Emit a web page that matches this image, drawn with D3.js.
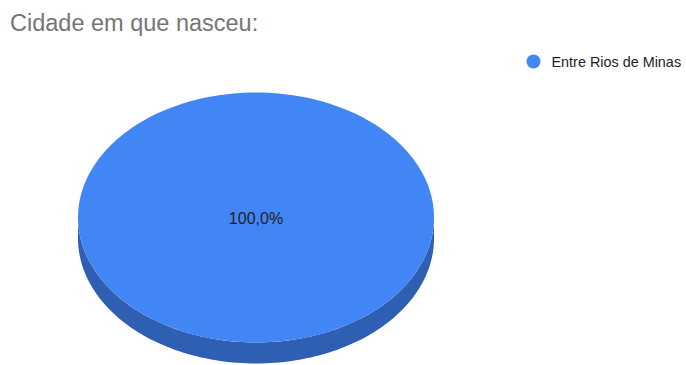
<!DOCTYPE html>
<html>
<head>
<meta charset="utf-8">
<script src="https://cdn.jsdelivr.net/npm/d3@7"></script>
<style>
  html, body { margin: 0; padding: 0; background: #fff; }
  svg { display: block; font-family: Arial, "Liberation Sans", sans-serif; }
</style>
</head>
<body>
<svg id="chart" width="686" height="365"></svg>
<script>
// Chart data
const title = "Cidade em que nasceu:";
const categories = ["Entre Rios de Minas"];
const values = [1];
const colors = ["#4285f4"];
const sideColors = ["#2f5fb2"];

const W = 686, H = 365;
const svg = d3.select("#chart");

// Tilted pie geometry
const cx = 256, cy = 217.5, rx = 178, ry = 125, depth = 21;

const pie = d3.pie().sort(null).value(d => d)(values);
const total = d3.sum(values);
const pct = d3.format(".1f");

// point on the ellipse for a d3 pie angle (0 = 12 o'clock, clockwise)
const pt = (a, dy = 0) => [cx + rx * Math.sin(a), cy - ry * Math.cos(a) + dy];
const isFull = d => d.endAngle - d.startAngle >= 2 * Math.PI - 1e-6;

function topPath(d) {
  const n = 180;
  const p = d3.path();
  if (!isFull(d)) p.moveTo(cx, cy);
  for (let i = 0; i <= n; i++) {
    const [x, y] = pt(d.startAngle + (d.endAngle - d.startAngle) * i / n);
    (i === 0 && isFull(d)) ? p.moveTo(x, y) : p.lineTo(x, y);
  }
  p.closePath();
  return p.toString();
}

function sidePath(d) {
  // outer wall is visible only on the front half (angles between pi/2 and 3pi/2)
  const a0 = Math.max(d.startAngle, Math.PI / 2);
  const a1 = Math.min(d.endAngle, 3 * Math.PI / 2);
  if (a1 <= a0) return null;
  const n = 120;
  const p = d3.path();
  for (let i = 0; i <= n; i++) {
    const [x, y] = pt(a0 + (a1 - a0) * i / n);
    i === 0 ? p.moveTo(x, y) : p.lineTo(x, y);
  }
  for (let i = n; i >= 0; i--) {
    const [x, y] = pt(a0 + (a1 - a0) * i / n, depth);
    p.lineTo(x, y);
  }
  p.closePath();
  return p.toString();
}

const g = svg.append("g");

g.selectAll("path.side")
  .data(pie.filter(d => sidePath(d)))
  .join("path")
  .attr("class", "side")
  .attr("d", sidePath)
  .attr("fill", d => sideColors[d.index]);

g.selectAll("path.top")
  .data(pie)
  .join("path")
  .attr("class", "top")
  .attr("d", topPath)
  .attr("fill", d => colors[d.index]);

// slice labels
g.selectAll("text.lbl")
  .data(pie)
  .join("text")
  .attr("class", "lbl")
  .attr("x", d => isFull(d) ? cx : cx + rx * 0.6 * Math.sin((d.startAngle + d.endAngle) / 2))
  .attr("y", d => isFull(d) ? cy + 1 : cy - ry * 0.6 * Math.cos((d.startAngle + d.endAngle) / 2))
  .attr("text-anchor", "middle")
  .attr("dominant-baseline", "central")
  .attr("font-size", 16)
  .attr("fill", "#222")
  .text(d => pct(d.data / total * 100).replace(".", ",") + "%");

// title
svg.append("text")
  .attr("x", 10)
  .attr("y", 30.5)
  .attr("font-size", 23.5)
  .attr("fill", "#757575")
  .text(title);

// legend
const leg = svg.append("g").selectAll("g")
  .data(categories)
  .join("g")
  .attr("transform", (d, i) => `translate(533.5, ${61.5 + i * 24})`);
leg.append("circle").attr("r", 7).attr("fill", (d, i) => colors[i]);
leg.append("text")
  .attr("x", 18)
  .attr("y", 0)
  .attr("dominant-baseline", "central")
  .attr("font-size", 14.4)
  .attr("fill", "#222")
  .text(d => d);
</script>
</body>
</html>
